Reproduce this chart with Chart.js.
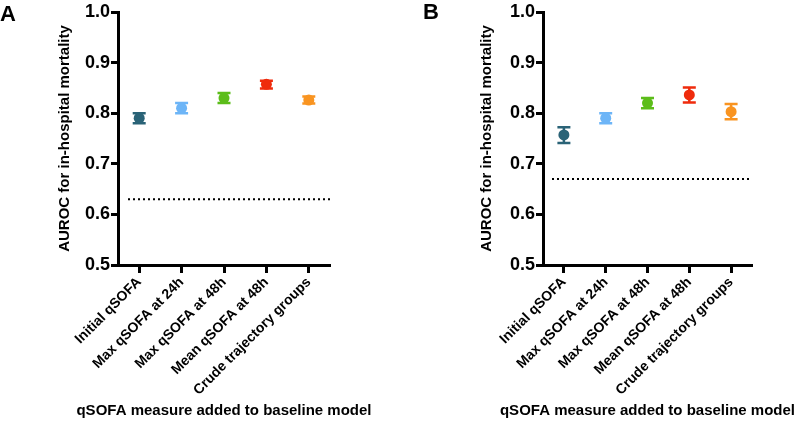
<!DOCTYPE html>
<html>
<head>
<meta charset="utf-8">
<script src="https://cdn.jsdelivr.net/npm/chart.js@4.4.0/dist/chart.umd.min.js"></script>
<style>
  body { margin: 0; background: #fff; }
  .panel { position: absolute; top: 0; width: 400px; height: 425px; }
  .letter { position: absolute; font: bold 22px "Liberation Sans", Arial, sans-serif; color: #000; }
</style>
</head>
<body>
<div class="panel" style="left:0"><canvas id="chart-a" width="400" height="425"></canvas></div>
<div class="panel" style="left:400px"><canvas id="chart-b" width="400" height="425"></canvas></div>
<div class="letter" style="left:0px; top:1px">A</div>
<div class="letter" style="left:423px; top:-1px">B</div>
<script>
const categories = ['Initial qSOFA', 'Max qSOFA at 24h', 'Max qSOFA at 48h', 'Mean qSOFA at 48h', 'Crude trajectory groups'];
const colors = ['#2a6377', '#6db5f7', '#5cbd1a', '#ef2b0c', '#f99421'];
const xTitle = 'qSOFA measure added to baseline model';
const yTitle = 'AUROC for in-hospital mortality';

// panel A
const aurocA = [0.790, 0.810, 0.830, 0.857, 0.826];
const lowerA = [0.780, 0.800, 0.820, 0.849, 0.819];
const upperA = [0.800, 0.820, 0.840, 0.864, 0.833];
const baselineA = 0.63;

// panel B
const aurocB = [0.757, 0.790, 0.820, 0.836, 0.803];
const lowerB = [0.741, 0.780, 0.810, 0.821, 0.788];
const upperB = [0.772, 0.800, 0.830, 0.851, 0.818];
const baselineB = 0.67;

const yMin = 0.5;
const yMax = 1.0;
const yStep = 0.1;

const FONT = '"Liberation Sans", Arial, sans-serif';

// CI whiskers, dotted baseline and the wide x title (chart.js squeezes it to the axis width)
const extrasPlugin = {
    id: 'extras',
    beforeDatasetsDraw(chart, args, opts) {
        const ctx = chart.ctx;
        const x = chart.scales.x;
        const y = chart.scales.y;
        const area = chart.chartArea;

        ctx.save();
        ctx.strokeStyle = '#000';
        ctx.lineWidth = 2;
        ctx.setLineDash([2, 3]);
        const by = y.getPixelForValue(opts.baseline);
        ctx.beginPath();
        ctx.moveTo(area.left + opts.lineStart, by);
        ctx.lineTo(area.right, by);
        ctx.stroke();
        ctx.setLineDash([]);

        ctx.lineWidth = 2.5;
        for (let i = 0; i < opts.lower.length; ++i) {
            const px = x.getPixelForValue(i);
            const lo = y.getPixelForValue(opts.lower[i]);
            const hi = y.getPixelForValue(opts.upper[i]);
            ctx.strokeStyle = colors[i];
            ctx.beginPath();
            ctx.moveTo(px, lo);
            ctx.lineTo(px, hi);
            ctx.moveTo(px - 6.5, lo);
            ctx.lineTo(px + 6.5, lo);
            ctx.moveTo(px - 6.5, hi);
            ctx.lineTo(px + 6.5, hi);
            ctx.stroke();
        }
        ctx.restore();
    },
    afterDraw(chart) {
        const ctx = chart.ctx;
        const x = chart.scales.x;
        ctx.save();
        ctx.fillStyle = '#000';
        ctx.font = 'bold 15px ' + FONT;
        ctx.textAlign = 'center';
        ctx.textBaseline = 'middle';
        ctx.fillText(xTitle, (x.left + x.right) / 2, 411);
        ctx.restore();
    }
};

function makeChart(id, values, lower, upper, baseline, axisLeft, axisRight, titleOffset, lineStart) {
    const ctx = document.getElementById(id);
    new Chart(ctx, {
        type: 'line',
        data: {
            labels: categories,
            datasets: [{
                data: values,
                showLine: false,
                pointRadius: 5.5,
                pointHoverRadius: 5.5,
                pointBorderWidth: 0,
                pointBackgroundColor: colors,
                pointBorderColor: colors
            }]
        },
        options: {
            responsive: false,
            animation: false,
            events: [],
            layout: { padding: { left: 0, top: 12, right: 400 - axisRight, bottom: 0 } },
            plugins: {
                legend: { display: false },
                tooltip: { enabled: false },
                extras: { lower: lower, upper: upper, baseline: baseline, lineStart: lineStart }
            },
            scales: {
                x: {
                    type: 'category',
                    offset: true,
                    grid: { drawOnChartArea: false, drawTicks: true, tickLength: 8, tickWidth: 3, tickColor: '#000', offset: false },
                    border: { display: true, color: '#000', width: 3 },
                    ticks: {
                        color: '#000',
                        font: { family: FONT, size: 14, weight: 'bold' },
                        minRotation: 45,
                        maxRotation: 45,
                        padding: 1,
                        autoSkip: false
                    },
                    afterFit(scale) { scale.height = 160; }
                },
                y: {
                    min: yMin,
                    max: yMax,
                    grid: { drawOnChartArea: false, drawTicks: true, tickLength: 7, tickWidth: 3, tickColor: '#000' },
                    border: { display: true, color: '#000', width: 3 },
                    ticks: {
                        stepSize: yStep,
                        color: '#000',
                        padding: 1,
                        font: { family: FONT, size: 18, weight: 'bold' },
                        callback: v => v.toFixed(1)
                    },
                    title: {
                        display: true,
                        text: yTitle,
                        color: '#000',
                        font: { family: FONT, size: 15, weight: 'bold' },
                        padding: { top: titleOffset, bottom: 4 }
                    },
                    afterFit(scale) { scale.width = axisLeft; }
                }
            }
        },
        plugins: [extrasPlugin]
    });
}

makeChart('chart-a', aurocA, lowerA, upperA, baselineA, 118, 330, 56, 10);
makeChart('chart-b', aurocB, lowerB, upperB, baselineB, 143, 352, 78, 9);
</script>
</body>
</html>
